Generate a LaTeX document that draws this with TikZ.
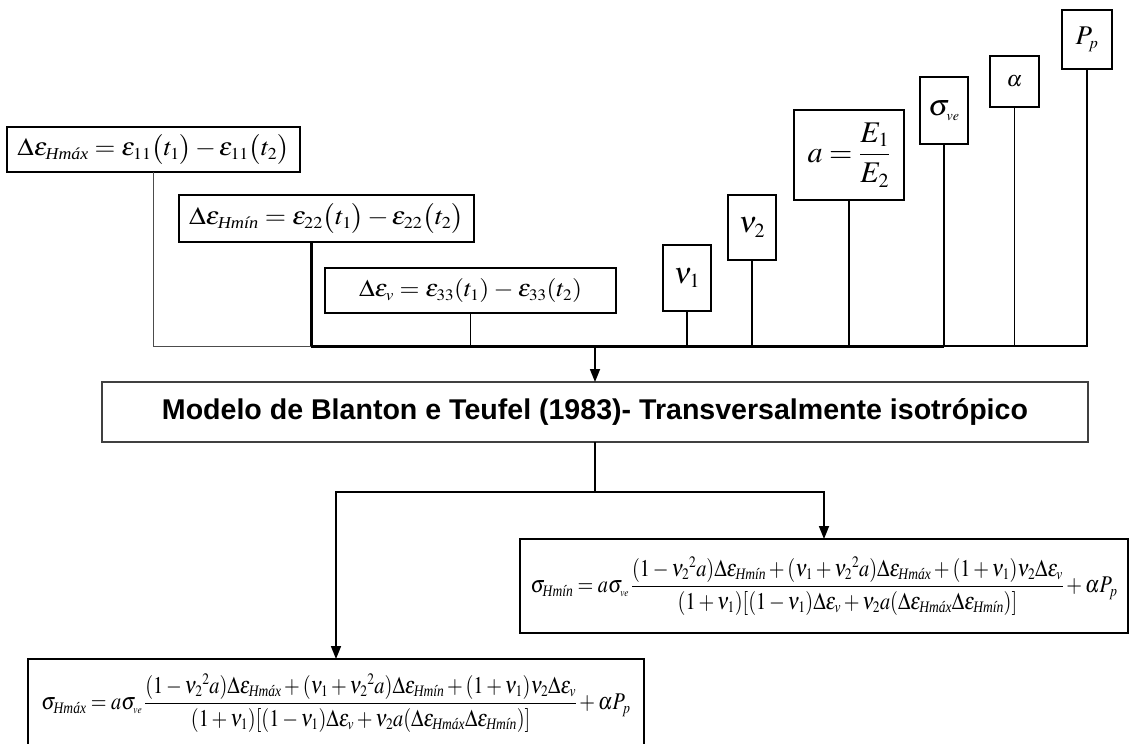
\documentclass[tikz,border=0pt]{standalone}
\usepackage{amsmath}
\usepackage{graphicx}
\usepackage{mathptmx}
\usepackage{fontspec}
\setmainfont{Liberation Serif}
\newfontfamily\arialb{Liberation Sans}
\usetikzlibrary{arrows.meta}
\DeclareMathSizes{30}{30}{20}{14}
\newcommand{\Hx}{\text{\itshape Hmáx}}
\newcommand{\Hn}{\text{\itshape Hmín}}
\begin{document}
\begin{tikzpicture}[x=1pt,y=-1pt,
  box/.style={draw=black, line width=1.1pt, inner sep=0pt, outer sep=0pt},
  thinln/.style={line width=0.9pt, draw=black!70},
  midln/.style={line width=1.7pt, draw=black},
  heavyln/.style={line width=3pt, draw=black},
  arr/.style={-{Triangle[length=13pt,width=10pt]}, line width=1.7pt, draw=black},
  big/.style={font=\fontsize{30}{30}\selectfont}]
\useasboundingbox (0,0) rectangle (1130,744);

% top boxes
\node[box, big, minimum width=293pt, minimum height=45pt] (A) at (153.5,149.5)
  {\resizebox*{272pt}{30pt}{$\medmuskip=2mu\Delta\varepsilon_{\Hx} = \varepsilon_{11}\bigl(t_1\bigr) - \varepsilon_{11}\bigl(t_2\bigr)$}};
\node[box, big, minimum width=295pt, minimum height=47pt] (B) at (326.5,218.5)
  {\resizebox*{275pt}{30pt}{$\medmuskip=2mu\Delta\varepsilon_{\Hn} = \varepsilon_{22}\bigl(t_1\bigr) - \varepsilon_{22}\bigl(t_2\bigr)$}};
\node[box, big, minimum width=291pt, minimum height=45pt] (C) at (470.5,290.5)
  {\resizebox*{223pt}{24pt}{$\medmuskip=3mu\Delta\varepsilon_{v} = \varepsilon_{33}(t_1) - \varepsilon_{33}(t_2)$}};
\node[box, big, minimum width=48pt, minimum height=66pt] (N1) at (687,278) {$\nu_1$};
\node[box, big, minimum width=48pt, minimum height=65pt] (N2) at (752,227.5) {$\nu_2$};
\node[box, big, minimum width=110pt, minimum height=90pt] (E) at (849,155) {$a=\dfrac{E_1}{E_2}$};
\node[box, big, minimum width=48pt, minimum height=67pt] (S) at (944,110.5) {$\sigma_{\scriptscriptstyle ve}$};
\node[box, minimum width=49pt, minimum height=51pt, font=\fontsize{22}{22}\selectfont] (Al) at (1014.5,81.5) {$\alpha$};
\node[box, minimum width=50pt, minimum height=59pt, font=\fontsize{27}{27}\selectfont] (P) at (1087,39.5) {$P_{\scriptscriptstyle p}$};

% bus coordinates
\coordinate (bus) at (0,346);
\coordinate (bB) at (311,346);
\coordinate (bS) at (944,346);
\coordinate (bM) at (595,346);

\draw[thinln] (A.south) |- (bB);
\draw[heavyln] (bB |- B.south) -- (bB);
\draw[heavyln] (bB) -- (bS);
\draw[midln] (C.south) -- (C.south |- bus);
\draw[midln] (N1.south) -- (N1.south |- bus);
\draw[midln] (N2.south) -- (N2.south |- bus);
\draw[midln] (E.south) -- (E.south |- bus);
\draw[midln] (S.south) -- (bS);
\draw[midln] (bS) -- (Al.south |- bus) -- (Al.south);
\draw[midln] (Al.south |- bus) -| (P.south);

% main box
\node[box, draw=black!75, minimum width=986pt, minimum height=60pt] (M) at (595,412)
  {\resizebox{866pt}{!}{\arialb\bfseries Modelo de Blanton e Teufel (1983)- Transversalmente isotrópico}};
\draw[arr] (bM) -- (M.north);

% result boxes
\node[box, big, minimum width=608pt, minimum height=94pt] (Hn) at (824,586)
  {\resizebox*{587pt}{58pt}{$\sigma_{\Hn} = a\sigma_{\scriptscriptstyle ve}\,\dfrac{(1-{\nu_2}^2a)\Delta\varepsilon_{\Hn}+(\nu_1+{\nu_2}^2a)\Delta\varepsilon_{\Hx}+(1+\nu_1)\nu_2\Delta\varepsilon_v}{(1+\nu_1)[(1-\nu_1)\Delta\varepsilon_v+\nu_2a(\Delta\varepsilon_{\Hx}\Delta\varepsilon_{\Hn})]}+\alpha P_p$}};
\node[box, big, minimum width=616pt, minimum height=88pt] (Hx) at (336,703)
  {\resizebox*{589pt}{58pt}{$\sigma_{\Hx} = a\sigma_{\scriptscriptstyle ve}\,\dfrac{(1-{\nu_2}^2a)\Delta\varepsilon_{\Hx}+(\nu_1+{\nu_2}^2a)\Delta\varepsilon_{\Hn}+(1+\nu_1)\nu_2\Delta\varepsilon_v}{(1+\nu_1)[(1-\nu_1)\Delta\varepsilon_v+\nu_2a(\Delta\varepsilon_{\Hx}\Delta\varepsilon_{\Hn})]}+\alpha P_p$}};

\coordinate (split) at (595,492);
\draw[midln] (M.south) -- (split);
\draw[arr] (split) -| (Hx.north);
\draw[arr] (split) -| (Hn.north);
\end{tikzpicture}
\end{document}
